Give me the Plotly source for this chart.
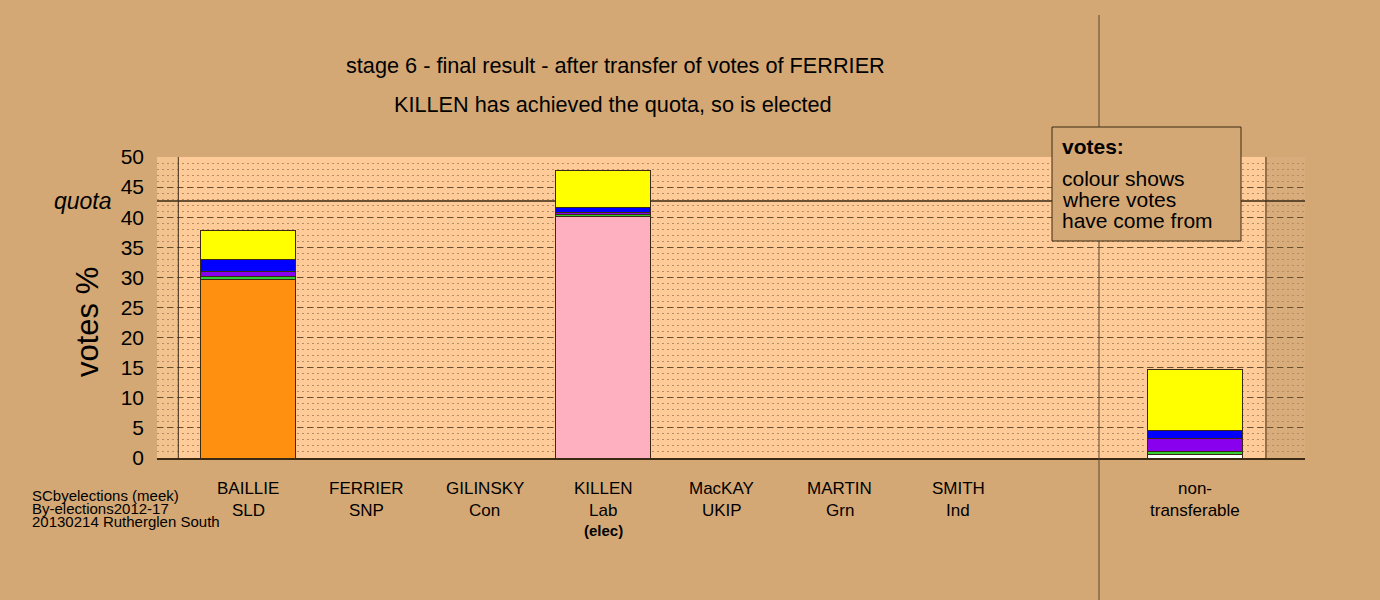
import plotly.graph_objects as go

# ---- data ----
candidates = ["BAILLIE", "FERRIER", "GILINSKY", "KILLEN", "MacKAY", "MARTIN", "SMITH", "non-"]
parties = ["SLD", "SNP", "Con", "Lab", "UKIP", "Grn", "Ind", "transferable"]
elected = ["", "", "", "(elec)", "", "", "", ""]
slots = [0, 1, 2, 3, 4, 5, 6, 8]  # category slot (gap before non-transferable)

src_sld = [29.7, 0, 0, 0, 0, 0, 0, 0]
src_lab = [0, 0, 0, 40.2, 0, 0, 0, 0]
src_ind = [0, 0, 0, 0, 0, 0, 0, 0.5]
src_grn = [0.5, 0, 0, 0.3, 0, 0, 0, 0.6]
src_ukip = [0.7, 0, 0, 0.25, 0, 0, 0, 2.1]
src_con = [2.1, 0, 0, 0.85, 0, 0, 0, 1.45]
src_snp = [4.75, 0, 0, 6.1, 0, 0, 0, 10.05]
quota = 42.7

series = [
    ("SLD", src_sld, "#FF9010"),
    ("Lab", src_lab, "#FFB0C0"),
    ("Ind", src_ind, "#FFFFFF"),
    ("Grn", src_grn, "#33CC33"),
    ("UKIP", src_ukip, "#8800EE"),
    ("Con", src_con, "#0000FF"),
    ("SNP", src_snp, "#FFFF00"),
]

FONT = "Liberation Sans, Arial, sans-serif"
PAPER = "#D4A874"
DARK = "#3A2A14"
XR = [-0.77, 8.93]

fig = go.Figure()
for name, vals, col in series:
    fig.add_trace(go.Bar(
        x=slots, y=vals, name=name, width=0.8,
        marker=dict(color=col, line=dict(color=DARK, width=1)),
        showlegend=False, hoverinfo="skip",
    ))

L, R, T, B = 157, 75, 157, 142
W, H = 1380, 600
pw = W - L - R
ph = H - T - B

def px_x(p):
    return (p - L) / pw

def px_y(p):
    return (H - B - p) / ph

shapes = [
    # left strip and inner peach area
    dict(type="rect", xref="x", yref="y", x0=XR[0], x1=-0.59, y0=0, y1=50,
         fillcolor="#F2C38E", line=dict(width=0), layer="below"),
    dict(type="rect", xref="x", yref="y", x0=-0.59, x1=8.60, y0=0, y1=50,
         fillcolor="#FFCC99", line=dict(width=0), layer="below"),
    dict(type="line", xref="x", yref="y", x0=-0.59, x1=-0.59, y0=0, y1=50,
         line=dict(color=DARK, width=1), layer="between"),
    dict(type="line", xref="x", yref="y", x0=8.60, x1=8.60, y0=0, y1=50,
         line=dict(color=DARK, width=1), layer="between"),
    # quota line (behind bars)
    dict(type="line", xref="x", yref="y", x0=XR[0], x1=XR[1], y0=quota, y1=quota,
         line=dict(color=DARK, width=1.5), layer="between"),
    # separator before non-transferable
    dict(type="line", xref="paper", yref="paper", x0=px_x(1099), x1=px_x(1099),
         y0=px_y(600), y1=px_y(15), line=dict(color="#5A4530", width=1), layer="above"),
    # votes box
    dict(type="rect", xref="paper", yref="paper", x0=px_x(1052), x1=px_x(1241),
         y0=px_y(241), y1=px_y(127), fillcolor=PAPER,
         line=dict(color=DARK, width=1), layer="above"),
]

ann = []
def text(s, xp, yp, size, anchor="center", bold=False, italic=False, angle=0, xref="paper", yref="paper"):
    if bold:
        s = "<b>" + s + "</b>"
    if italic:
        s = "<i>" + s + "</i>"
    ann.append(dict(text=s, x=xp, y=yp, xref=xref, yref=yref, showarrow=False,
                    xanchor=anchor, yanchor="middle", textangle=angle,
                    font=dict(family=FONT, size=size, color="black")))

text("stage 6 - final result - after transfer of votes of FERRIER", px_x(615), px_y(66), 21.7)
text("KILLEN has achieved the quota, so is elected", px_x(613), px_y(104), 21.7)
text("votes %", px_x(87), px_y(322), 31, angle=-90)
text("quota", px_x(114), quota, 23, anchor="right", italic=True, yref="y")
text("votes:", px_x(1060), px_y(146), 21, anchor="left", bold=True)
text("colour shows", px_x(1060), px_y(178), 21, anchor="left")
text("where votes", px_x(1060), px_y(199), 21, anchor="left")
text("have come from", px_x(1060), px_y(220), 21, anchor="left")
text("SCbyelections (meek)", px_x(30), px_y(495), 15, anchor="left")
text("By-elections2012-17", px_x(30), px_y(508), 15, anchor="left")
text("20130214 Rutherglen South", px_x(30), px_y(521), 15, anchor="left")

for s, c, p, e in zip(slots, candidates, parties, elected):
    text(c, s, px_y(489), 17, xref="x")
    text(p, s, px_y(510), 17, xref="x")
    if e:
        text(e, s, px_y(530), 15, bold=True, xref="x")

fig.update_layout(
    width=W, height=H,
    margin=dict(l=L, r=R, t=T, b=B, pad=0),
    paper_bgcolor=PAPER,
    plot_bgcolor="#D9AD7B",
    barmode="stack",
    bargap=0.2,
    font=dict(family=FONT, color="black"),
    shapes=shapes,
    annotations=ann,
    xaxis=dict(range=XR, showticklabels=False, ticks="", showgrid=False,
               zeroline=False, showline=True, linecolor=DARK, linewidth=2),
    yaxis=dict(range=[0, 50], tickvals=list(range(0, 51, 5)), ticks="",
               tickfont=dict(size=21, family=FONT, color="black"),
               ticklabelstandoff=12,
               showgrid=True, gridcolor="#6B5030", griddash="6px,4px", gridwidth=1,
               zeroline=False, showline=False,
               minor=dict(dtick=1, showgrid=True, gridcolor="#B88C62",
                          griddash="2px,3px", gridwidth=1)),
)

fig.write_html("out.html", config={"displayModeBar": False},
               post_script="document.body.style.margin='0px';")
